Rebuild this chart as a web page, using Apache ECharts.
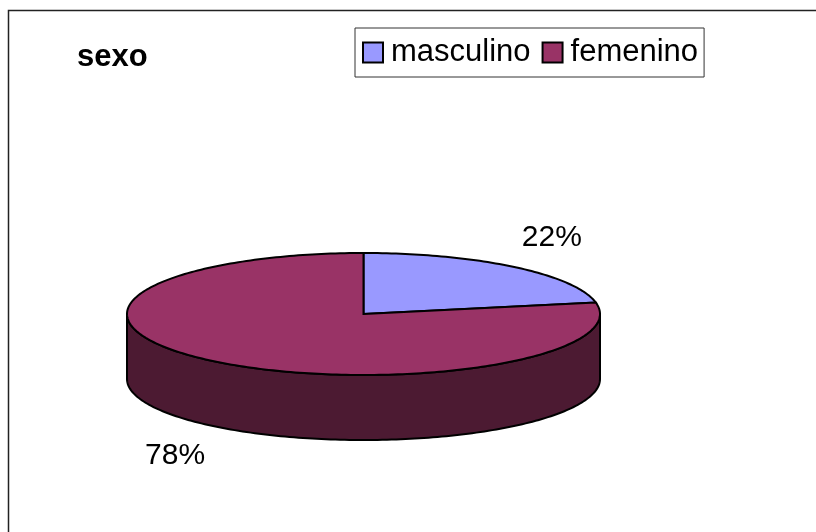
<!DOCTYPE html>
<html>
<head>
<meta charset="utf-8">
<script src="https://cdn.jsdelivr.net/npm/echarts@6/dist/echarts.min.js"></script>
<style>
  html, body { margin: 0; padding: 0; background: #fff; }
  #chart { width: 816px; height: 532px; }
</style>
</head>
<body>
<div id="chart"></div>
<script>
const categories = ['masculino', 'femenino'];
const values = [22, 78];
const colors = ['#9999ff', '#993366'];
const sideColor = '#4c1a32';

// pie geometry (flattened 3D look)
const cx = 363.5, cy = 314, rx = 236.5, ry = 61, depth = 65;
const font = '"Liberation Sans", Arial, sans-serif';

const total = values.reduce((a, b) => a + b, 0);

function pt(a, dz) {
    return [cx + rx * Math.cos(a), cy + ry * Math.sin(a) + (dz || 0)];
}

function arc(a0, a1, dz) {
    const n = Math.max(2, Math.ceil(Math.abs(a1 - a0) / 0.02));
    const out = [];
    for (let k = 0; k <= n; k++) {
        out.push(pt(a0 + (a1 - a0) * k / n, dz));
    }
    return out;
}

function sliceAngles(i) {
    let before = 0;
    for (let k = 0; k < i; k++) before += values[k];
    const a0 = -Math.PI / 2 + before / total * Math.PI * 2;
    const a1 = a0 + values[i] / total * Math.PI * 2;
    return [a0, a1];
}

function makeRender(i) {
    return function (params, api) {
        const [a0, a1] = sliceAngles(i);
        const color = api.visual('color');
        const children = [];

        // front wall: part of the slice facing the viewer (angles 0..PI)
        const s = Math.max(a0, 0), e = Math.min(a1, Math.PI);
        if (e > s) {
            const top = arc(s, e, 0);
            const bottom = arc(e, s, depth);
            children.push({
                type: 'polygon',
                shape: { points: top.concat(bottom) },
                style: { fill: sideColor, stroke: '#000', lineWidth: 2 }
            });
        }

        // top face
        children.push({
            type: 'polygon',
            shape: { points: [[cx, cy]].concat(arc(a0, a1, 0)) },
            style: { fill: color, stroke: '#000', lineWidth: 2 }
        });

        // label outside the slice
        const mid = (a0 + a1) / 2;
        const sn = Math.sin(mid);
        children.push({
            type: 'text',
            style: {
                x: cx + (rx + 59) * Math.cos(mid),
                y: cy + (ry + 38) * sn + (sn > 0 ? depth : 0),
                text: Math.round(values[i] / total * 100) + '%',
                fontSize: 30,
                fontFamily: font,
                fill: '#000',
                align: 'center',
                verticalAlign: 'middle'
            }
        });

        return { type: 'group', children: children };
    };
}

const chart = echarts.init(document.getElementById('chart'));

chart.setOption({
    animation: false,
    backgroundColor: '#fff',
    title: {
        text: 'sexo',
        left: 77,
        top: 42,
        padding: 0,
        textStyle: { fontSize: 31, fontWeight: 'bold', fontFamily: font, color: '#000' }
    },
    legend: {
        left: 355,
        top: 28,
        orient: 'horizontal',
        padding: [9, 6, 9, 7],
        itemGap: 11,
        itemWidth: 20,
        itemHeight: 20,
        icon: 'rect',
        borderColor: '#333',
        borderWidth: 1,
        borderRadius: 0,
        itemStyle: { borderColor: '#000', borderWidth: 2 },
        textStyle: { fontSize: 31, fontFamily: font, color: '#000', padding: [2, 0, 0, 3] },
        data: categories
    },
    graphic: [{
        type: 'polyline',
        shape: { points: [[8.5, 560], [8.5, 10.5], [830, 10.5]] },
        style: { stroke: '#222', lineWidth: 1.5, fill: null },
        silent: true
    }],
    series: categories.map((name, i) => ({
        type: 'custom',
        name: name,
        coordinateSystem: 'none',
        itemStyle: { color: colors[i] },
        renderItem: makeRender(i),
        data: [values[i]]
    }))
});
</script>
</body>
</html>
